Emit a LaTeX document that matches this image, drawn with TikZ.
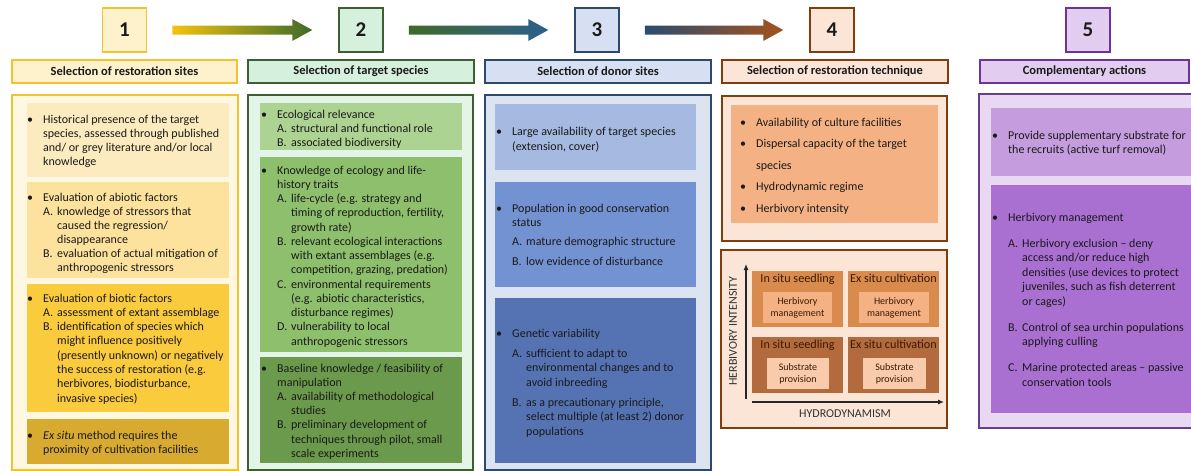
\documentclass[tikz,border=0pt]{standalone}
\usepackage{fontspec}
\setmainfont{Carlito}
\usetikzlibrary{arrows.meta,calc}
% column 1 (yellow)
\definecolor{cAf}{HTML}{F2C230}\definecolor{cAh}{HTML}{FEF2CC}\definecolor{cAbg}{HTML}{FEF7E2}
\definecolor{cA1}{HTML}{FCEBBE}\definecolor{cA2}{HTML}{FCE29C}\definecolor{cA3}{HTML}{FACB3C}\definecolor{cA4}{HTML}{D8AA30}
% column 2 (green)
\definecolor{cBf}{HTML}{3D5F32}\definecolor{cBh}{HTML}{D6F0DE}\definecolor{cBbg}{HTML}{E2F5E8}
\definecolor{cB1}{HTML}{ADD393}\definecolor{cB2}{HTML}{8DBF6C}\definecolor{cB3}{HTML}{6C9A4C}
% column 3 (blue)
\definecolor{cCf}{HTML}{2E4A6A}\definecolor{cCh}{HTML}{D6E0F2}\definecolor{cCbg}{HTML}{DCE4F2}
\definecolor{cC1}{HTML}{A5B9E1}\definecolor{cC2}{HTML}{7392D2}\definecolor{cC3}{HTML}{5573B3}
% column 4 (orange)
\definecolor{cDf}{HTML}{843C0C}\definecolor{cDh}{HTML}{FBE5D6}\definecolor{cDbg}{HTML}{FBE5D6}
\definecolor{cD1}{HTML}{F4B183}\definecolor{cDq1}{HTML}{D98B4E}\definecolor{cDq2}{HTML}{B36A3C}
\definecolor{cDi2}{HTML}{F8CBAD}\definecolor{cDt}{HTML}{3B1A05}
% column 5 (purple)
\definecolor{cEf}{HTML}{6A3D8C}\definecolor{cEh}{HTML}{E2CDF0}\definecolor{cEhf}{HTML}{7030A0}\definecolor{cEbg}{HTML}{E8D8F2}
\definecolor{cE1}{HTML}{C59DDE}\definecolor{cE2}{HTML}{A970D2}
% arrows
\definecolor{arY}{HTML}{F4C20D}\definecolor{arG}{HTML}{3E6B2A}\definecolor{arB}{HTML}{2E5E8C}
\definecolor{arN}{HTML}{2B4C70}\definecolor{arR}{HTML}{A4521C}
\definecolor{txtc}{HTML}{1A1A1A}

\newcommand{\myB}[1]{\makebox[16pt][l]{\textbullet}#1}
\newcommand{\myC}[1]{\hspace*{16pt}#1}
\newcommand{\myI}[2]{\hspace*{16pt}\makebox[14pt][l]{#1}#2}
\newcommand{\myJ}[1]{\hspace*{30pt}#1}
\newcommand{\tb}[2]{\fontsize{12}{#1}\selectfont\begin{tabular}[t]{@{}l@{}}#2\end{tabular}}
\newcommand{\gradarrow}[4]{%
  \shade[left color=#3, right color=#4]
    ($(#1.east)+(25,-4.5)$) -- ($(#2.west)+(-46,-4.5)$) -- ($(#2.west)+(-46,-11)$) --
    ($(#2.west)+(-26,0)$) -- ($(#2.west)+(-46,11)$) -- ($(#2.west)+(-46,4.5)$) --
    ($(#1.east)+(25,4.5)$) -- cycle;}

\begin{document}
\begin{tikzpicture}[x=1pt,y=-1pt,
  numbox/.style={draw, line width=1.5pt, minimum width=44pt, minimum height=44pt,
     inner sep=0pt, font=\bfseries\fontsize{21}{24}\selectfont, text=txtc},
  hdr/.style={draw, line width=1.5pt, minimum height=23pt, inner sep=0pt,
     font=\bfseries\fontsize{12.5}{14}\selectfont, text=txtc},
  frm/.style={line width=1.6pt},
  txt/.style={anchor=base west, inner sep=0pt, text=txtc, font=\fontsize{12}{14.4}\selectfont},
  qtitle/.style={anchor=base, inner sep=0pt, text=cDt, font=\fontsize{12.2}{14}\selectfont},
  qinner/.style={inner sep=0pt, align=center, text=cDt, font=\fontsize{10}{12}\selectfont},
  axis/.style={line width=1.1pt, black!85, -{Latex[length=6pt,width=5pt]}},
  axlab/.style={inner sep=0pt, text=black!80, font=\fontsize{12}{14}\selectfont}
]
\useasboundingbox (0,0) rectangle (1191,471);
\clip (0,0) rectangle (1191,471);
\fill[white] (0,0) rectangle (1191,471);

% ---------- number boxes ----------
\node[numbox, draw=cAf, fill=cAh] (n1) at (124.5,30) {1};
\node[numbox, draw=cBf, fill=cBh] (n2) at (361,30) {2};
\node[numbox, draw=cCf, fill=cCh] (n3) at (597,30) {3};
\node[numbox, draw=cDf, fill=cDh] (n4) at (832,30) {4};
\node[numbox, draw=cEhf, fill=cEh] (n5) at (1088,30) {5};

\gradarrow{n1}{n2}{arY}{arG}
\gradarrow{n2}{n3}{arG}{arB}
\gradarrow{n3}{n4}{arN}{arR}

% ---------- headers ----------
\node[hdr, draw=cAf, fill=cAh, minimum width=225pt] (h1) at (124.5,71.5) {Selection of restoration sites};
\node[hdr, draw=cBf, fill=cBh, minimum width=226pt] (h2) at (361,71.5) {Selection of target species};
\node[hdr, draw=cCf, fill=cCh, minimum width=226pt] (h3) at (598,71.5) {Selection of donor sites};
\node[hdr, draw=cDf, fill=cDh, minimum width=226pt] (h4) at (835,71.5) {Selection of restoration technique};
\node[hdr, draw=cEhf, fill=cEh, minimum width=209pt] (h5) at (1084.5,71.5) {Complementary actions};

% ---------- column 1 ----------
\draw[frm, draw=cAf, fill=cAbg] (12,95) rectangle (238,470);
\fill[cA1] (27,103) rectangle (229,177);
\fill[cA2] (27,182) rectangle (229,278);
\fill[cA3] (27,284) rectangle (229,412);
\fill[cA4] (27,419) rectangle (229,464);
\node[txt] (t1a) at (27,123) {\tb{14.3}{\myB{Historical presence of the target}\\
  \myC{species, assessed through published}\\
  \myC{and/ or grey literature and/or local}\\
  \myC{knowledge}}};
\node[txt] (t1b) at (27,201) {\tb{14.1}{\myB{Evaluation of abiotic factors}\\
  \myI{A.}{knowledge of stressors that}\\
  \myJ{caused the regression/}\\
  \myJ{disappearance}\\
  \myI{B.}{evaluation of actual mitigation of}\\
  \myJ{anthropogenic stressors}}};
\node[txt] (t1c) at (27,302) {\tb{14.3}{\myB{Evaluation of biotic factors}\\
  \myI{A.}{assessment of extant assemblage}\\
  \myI{B.}{identification of species which}\\
  \myJ{might influence positively}\\
  \myJ{(presently unknown) or negatively}\\
  \myJ{the success of restoration (e.g.}\\
  \myJ{herbivores, biodisturbance,}\\
  \myJ{invasive species)}}};
\node[txt] (t1d) at (27,439) {\tb{14.3}{\myB{\textit{Ex situ} method requires the}\\
  \myC{proximity of cultivation facilities}}};

% ---------- column 2 ----------
\draw[frm, draw=cBf, fill=cBbg] (248,95) rectangle (473,470);
\fill[cB1] (260,103) rectangle (462,150);
\fill[cB2] (260,157) rectangle (462,352);
\fill[cB3] (260,357) rectangle (462,463);
\node[txt] (t2a) at (261,118) {\tb{14}{\myB{Ecological relevance}\\
  \myI{A.}{structural and functional role}\\
  \myI{B.}{associated biodiversity}}};
\node[txt] (t2b) at (261,174) {\tb{14.25}{\myB{Knowledge of ecology and life-}\\
  \myC{history traits}\\
  \myI{A.}{life-cycle (e.g. strategy and}\\
  \myJ{timing of reproduction,  fertility,}\\
  \myJ{growth rate)}\\
  \myI{B.}{relevant ecological interactions}\\
  \myJ{with extant assemblages (e.g.}\\
  \myJ{competition, grazing, predation)}\\
  \myI{C.}{environmental requirements}\\
  \myJ{(e.g. abiotic characteristics,}\\
  \myJ{disturbance regimes)}\\
  \myI{D.}{vulnerability to local}\\
  \myJ{anthropogenic stressors}}};
\node[txt] (t2c) at (261,372) {\tb{14.2}{\myB{Baseline knowledge / feasibility of}\\
  \myC{manipulation}\\
  \myI{A.}{availability of methodological}\\
  \myJ{studies}\\
  \myI{B.}{preliminary development of}\\
  \myJ{techniques through pilot, small}\\
  \myJ{scale experiments}}};

% ---------- column 3 ----------
\draw[frm, draw=cCf, fill=cCbg] (485,95) rectangle (711,470);
\fill[cC1] (495,104) rectangle (696,170);
\fill[cC2] (495,182) rectangle (696,287);
\fill[cC3] (495,298) rectangle (696,463);
\node[txt] (t3a) at (496,135) {\tb{15.5}{\myB{Large availability of target species}\\
  \myC{(extension, cover)}}};
\node[txt] (t3b) at (496,212) {\tb{14}{\myB{Population in good conservation}\\
  \myC{status}\\[5.5pt]
  \myI{A.}{mature demographic structure}\\[5.5pt]
  \myI{B.}{low evidence of disturbance}}};
\node[txt] (t3c) at (496,337) {\tb{14.5}{\myB{Genetic variability}\\[5.5pt]
  \myI{A.}{sufficient to adapt to}\\
  \myJ{environmental changes and to}\\
  \myJ{avoid inbreeding}\\[5.5pt]
  \myI{B.}{as a precautionary principle,}\\
  \myJ{select multiple (at least 2) donor}\\
  \myJ{populations}}};

% ---------- column 4 ----------
\draw[frm, draw=cDf, fill=cDbg] (722,96) rectangle (947,241);
\fill[cD1] (731,105) rectangle (938,223);
\node[txt] (t4a) at (740,126) {\tb{21.5}{\myB{Availability of culture facilities}\\
  \myB{Dispersal capacity of the target}\\
  \myC{species}\\
  \myB{Hydrodynamic regime}\\
  \myB{Herbivory intensity}}};

\draw[frm, draw=cDf, fill=cDbg] (721,250) rectangle (947,428);
\fill[cDq1] (752,271) rectangle (843,327);
\fill[cDq1] (848,271) rectangle (939,327);
\fill[cDq2] (752,337) rectangle (843,393);
\fill[cDq2] (848,337) rectangle (939,393);
\node[qtitle] (q1t) at (797.5,282.5) {In situ seedling};
\node[qtitle] (q2t) at (893.5,282.5) {Ex situ cultivation};
\node[qtitle] (q3t) at (797.5,348.5) {In situ seedling};
\node[qtitle] (q4t) at (893.5,348.5) {Ex situ cultivation};
\node[qinner, fill=cD1, minimum width=69pt, minimum height=31pt] (q1i) at (797.5,307.5) {Herbivory\\management};
\node[qinner, fill=cD1, minimum width=70pt, minimum height=31pt] (q2i) at (894,307.5) {Herbivory\\management};
\node[qinner, fill=cDi2, minimum width=62pt, minimum height=31pt] (q3i) at (798,373.5) {Substrate\\provision};
\node[qinner, fill=cDi2, minimum width=63pt, minimum height=31pt] (q4i) at (894.5,373.5) {Substrate\\provision};
\coordinate (vy0) at (746,399);
\coordinate (vy1) at (746,264);
\coordinate (hx0) at (752,402);
\coordinate (hx1) at (944,402);
\draw[axis] (vy0) -- (vy1);
\draw[axis] (hx0) -- (hx1);
\node[axlab, rotate=90] (ylab) at (733,331) {HERBIVORY INTENSITY};
\node[axlab] (xlab) at (845,414) {HYDRODYNAMISM};

% ---------- column 5 ----------
\draw[frm, draw=cEf, fill=cEbg] (979,94) rectangle (1205,428);
\fill[cE1] (991,108) rectangle (1200,176);
\fill[cE2] (991,185) rectangle (1200,413);
\node[txt] (t5a) at (992,139) {\tb{14.4}{\myB{Provide supplementary substrate for}\\
  \myC{the recruits (active turf removal)}}};
\node[txt] (t5b) at (992,221) {\tb{14.5}{\myB{Herbivory management}\\[11.5pt]
  \myI{A.}{Herbivory exclusion -- deny}\\
  \myJ{access and/or reduce high}\\
  \myJ{densities (use devices to protect}\\
  \myJ{juveniles, such as fish deterrent}\\
  \myJ{or cages)}\\[11.5pt]
  \myI{B.}{Control of sea urchin populations}\\
  \myJ{applying culling}\\[11.5pt]
  \myI{C.}{Marine protected  areas -- passive}\\
  \myJ{conservation tools}}};
\end{tikzpicture}
\end{document}
